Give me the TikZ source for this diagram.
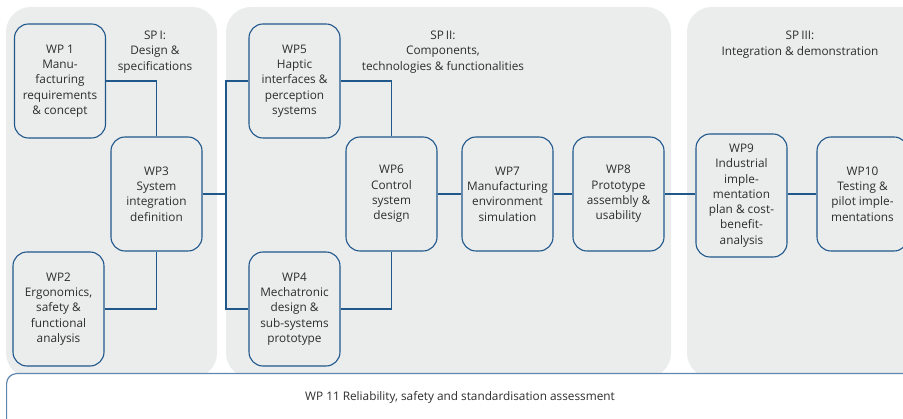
\documentclass[tikz,border=0pt]{standalone}
\usepackage{fontspec}
\setmainfont{Open Sans}
\definecolor{panelgray}{RGB}{235,236,236}
\definecolor{boxblue}{RGB}{32,88,140}
\definecolor{lightblue}{RGB}{95,135,175}
\definecolor{txt}{RGB}{45,45,45}
\tikzset{
  panel/.style={fill=panelgray, draw=none, rounded corners=25pt},
  wpbox/.style={draw=boxblue, line width=1.1pt, rounded corners=14pt, minimum width=91pt, minimum height=114pt, align=center, inner sep=1pt, text=txt, font=\fontsize{11.8}{15.3}\selectfont},
  splabel/.style={align=center, text=txt, font=\fontsize{11.8}{15.3}\selectfont},
  conn/.style={draw=boxblue, line width=1.1pt}
}
\begin{document}
\begin{tikzpicture}[x=1pt,y=-1pt]
\useasboundingbox (0,0) rectangle (903,419);
% panels
\fill[panel] (6,7) rectangle (217,378);
\fill[panel] (226,7) rectangle (671,378);
\fill[panel] (687,7) rectangle (940,378);
% labels
\node[splabel] (sp1) at (155,52) {SP\,I:\\Design \&\\specifications};
\node[splabel] (sp2) at (443,52) {SP\,II:\\Components,\\technologies \& functionalities};
\node[splabel] (sp3) at (800,44.5) {SP\,III:\\Integration \& demonstration};
% boxes
\node[wpbox] (wp1) at (60,81) {WP 1\\Manu-\\facturing\\requirements\\\& concept};
\node[wpbox] (wp3) at (156.5,194) {WP3\\System\\integration\\definition};
\node[wpbox] (wp2) at (58.5,309) {WP2\\Ergonomics,\\safety \&\\functional\\analysis};
\node[wpbox] (wp5) at (294.5,81) {WP5\\Haptic\\interfaces \&\\perception\\systems};
\node[wpbox] (wp6) at (391.5,194) {WP6\\Control\\system\\design};
\node[wpbox] (wp4) at (294.5,309) {WP4\\Mechatronic\\design \&\\sub-systems\\prototype};
\node[wpbox] (wp7) at (507.5,194) {WP7\\Manufacturing\\environment\\simulation};
\node[wpbox] (wp8) at (618.5,194) {WP8\\Prototype\\assembly \&\\usability};
\node[wpbox, minimum height=123pt] (wp9) at (741.5,195.5) {WP9\\Industrial\\imple-\\mentation\\plan \& cost-\\benefit-\\analysis};
\node[wpbox] (wp10) at (862.5,194) {WP10\\Testing \&\\pilot imple-\\mentations};
% connectors
\coordinate (bt) at (226,81);
\coordinate (bb) at (226,309);
\draw[conn] (wp1.east) -| (wp3.north);
\draw[conn] (wp2.east) -| (wp3.south);
\draw[conn] (wp3.east) -- (wp3.east -| bt);
\draw[conn] (wp5.west) -- (bt) -- (bb) -- (wp4.west);
\draw[conn] (wp5.east) -| (wp6.north);
\draw[conn] (wp4.east) -| (wp6.south);
\draw[conn] (wp6.east) -- (wp7.west);
\draw[conn] (wp7.east) -- (wp8.west);
\draw[conn] (wp8.east) -- (wp8.east -| wp9.west);
\draw[conn] (wp9.east |- wp10.west) -- (wp10.west);
% WP11
\node[draw=lightblue, fill=white, line width=1.2pt, rounded corners=10pt, minimum width=940pt, minimum height=60pt, anchor=north west, inner sep=0pt] (wp11box) at (6,373) {};
\node[text=txt, font=\fontsize{11.8}{15.3}\selectfont] (wp11) at (460,397) {WP 11 Reliability, safety and standardisation assessment};
\end{tikzpicture}
\end{document}
